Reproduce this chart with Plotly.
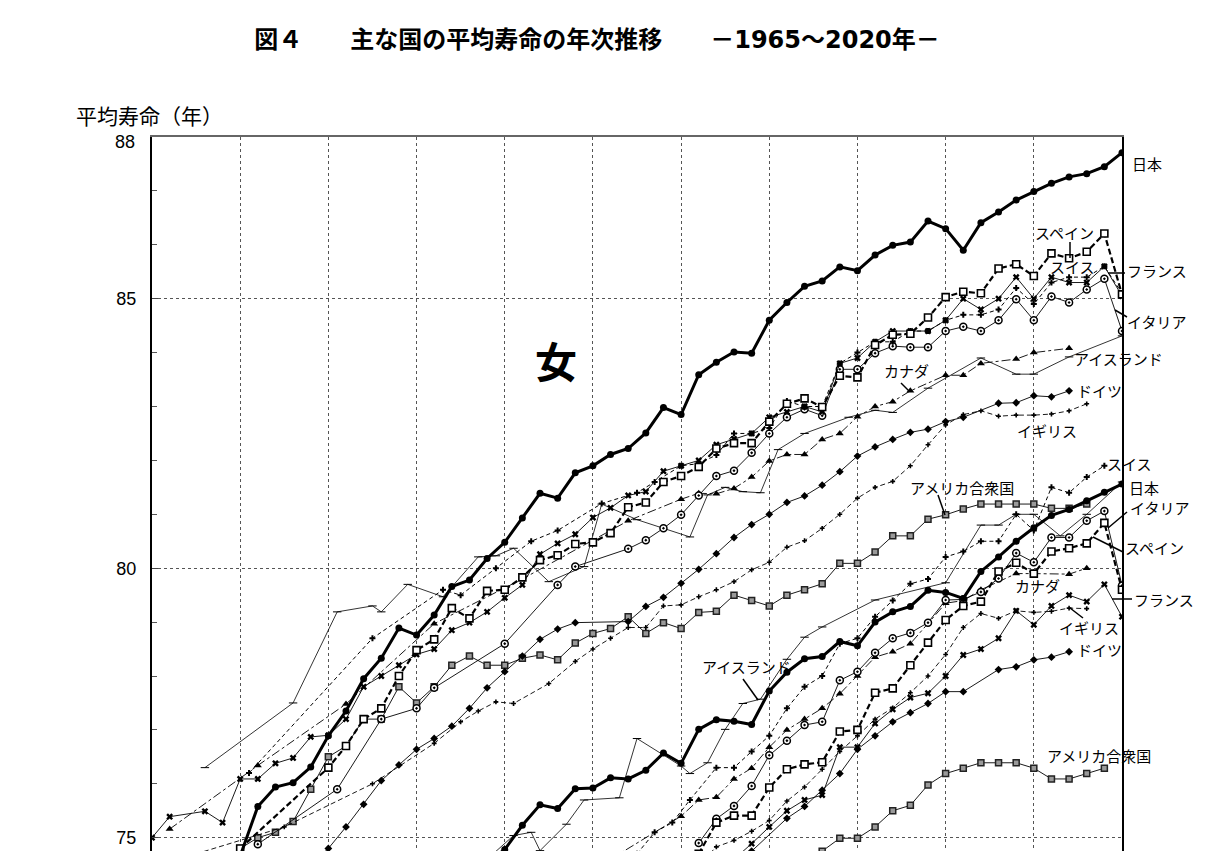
import plotly.graph_objects as go

# ---------------- data ----------------
# 女 (female)
jp_f_years = list(range(1965, 2021))
jp_f_vals = [72.92, 73.61, 74.15, 74.30, 74.67, 74.66, 75.58, 75.94, 76.02, 76.31,
             76.89, 77.35, 77.95, 78.33, 78.89, 78.76, 79.13, 79.66, 79.78, 80.18,
             80.48, 80.93, 81.39, 81.30, 81.77, 81.90, 82.11, 82.22, 82.51, 82.98,
             82.85, 83.59, 83.82, 84.01, 83.99, 84.60, 84.93, 85.23, 85.33, 85.59,
             85.52, 85.81, 85.99, 86.05, 86.44, 86.30, 85.90, 86.41, 86.61, 86.83,
             86.99, 87.14, 87.26, 87.32, 87.45, 87.71]

es_f_years = [1970] + list(range(1975, 2021))
es_f_vals = [74.8, 76.3, 76.7, 77.2, 77.4, 78.0, 78.48, 78.68, 79.26, 79.07, 79.58,
             79.6, 79.83, 80.15, 80.24, 80.45, 80.48, 80.65, 81.13, 81.22, 81.6,
             81.71, 81.88, 82.22, 82.32, 82.32, 82.72, 83.05, 83.15, 82.99, 83.57,
             83.54, 84.14, 84.33, 84.35, 84.65, 85.03, 85.13, 85.1, 85.56, 85.64,
             85.42, 85.84, 85.75, 85.87, 86.21, 85.08]

fr_f_years = [1965, 1966, 1968, 1969] + list(range(1970, 2021))
fr_f_vals = [75.0, 75.39, 75.49, 75.28, 76.09, 76.09, 76.38, 76.48, 76.87, 76.9,
             77.2, 77.8, 78.0, 78.2, 78.4, 78.5, 78.85, 78.99, 79.19, 79.45, 79.69,
             80.26, 80.46, 80.63, 80.94, 81.12, 81.35, 81.42, 81.8, 81.9, 82.0,
             82.29, 82.4, 82.5, 82.8, 82.9, 83.0, 82.9, 83.8, 83.9, 84.2, 84.4,
             84.4, 84.4, 84.6, 85.0, 84.8, 85.0, 85.4, 85.0, 85.4, 85.3, 85.3,
             85.6, 85.05]

ch_f_years = [1970.5, 1977.5, 1981.5, 1982.5, 1984.5, 1986.5, 1988, 1990.5, 1992.5,
              1993.5, 1995, 1996, 1997] + list(range(1998, 2021))
ch_f_vals = [76.2, 78.7, 79.6, 79.5, 80.0, 80.5, 80.7, 81.2, 81.4, 81.6, 81.9, 81.94,
             82.1, 82.5, 82.5, 82.6, 83.1, 83.0, 83.0, 83.8, 84.0, 84.2, 84.2, 84.4,
             84.4, 84.6, 84.7, 84.7, 84.8, 85.2, 84.9, 85.3, 85.4, 85.4, 85.6, 85.1]

it_f_years = [1971, 1975.5, 1978, 1980, 1981, 1985, 1988, 1989, 1992, 1993, 1994,
              1995, 1996] + list(range(1997, 2021))
it_f_vals = [74.88, 75.9, 77.2, 77.4, 77.78, 78.6, 79.69, 80.03, 80.36, 80.52, 80.74,
             80.99, 81.35, 81.71, 81.81, 82.14, 82.5, 82.8, 82.95, 82.83, 83.69, 83.69,
             83.99, 84.12, 84.1, 84.1, 84.4, 84.48, 84.4, 84.6, 84.99, 84.6, 85.04,
             84.93, 85.17, 85.37, 84.4]

is_f_years = [1968, 1973, 1975.5, 1977.5, 1978, 1979.5, 1981.5, 1983.5, 1984.5,
              1985.5, 1987.5, 1989.5, 1990.5, 1992.5, 1995.5, 1996.5, 1997.5, 1998.5,
              1999.5, 2000.5, 2002, 2004.5, 2006, 2007, 2009, 2012, 2014, 2015, 2017,
              2020]
is_f_vals = [76.3, 77.5, 79.19, 79.3, 79.19, 79.7, 79.47, 80.21, 80.23, 80.37, 79.75,
             80.03, 81.19, 80.9, 80.58, 81.36, 81.5, 81.42, 81.4, 82.2, 82.5, 82.8,
             82.93, 82.89, 83.34, 83.9, 83.6, 83.6, 83.92, 84.31]

ca_f_years = [1966, 1971, 1976, 1981, 1986, 1992, 1995, 1996, 1997, 1998, 1999, 2000,
              2001, 2002, 2003, 2004, 2005, 2006, 2007, 2008, 2010, 2011, 2012, 2014,
              2015, 2017]
ca_f_vals = [75.16, 76.34, 77.48, 78.97, 79.8, 80.88, 81.28, 81.39, 81.38, 81.48,
             81.69, 81.99, 82.11, 82.11, 82.39, 82.5, 82.81, 83.0, 83.09, 83.29, 83.58,
             83.58, 83.8, 83.88, 84.0, 84.08]

de_f_years = list(range(1974, 1990)) + list(range(1992, 2012)) + list(range(2013, 2018))
de_f_vals = [74.5, 74.8, 75.2, 75.62, 76.06, 76.35, 76.64, 76.84, 77.07, 77.4, 77.78,
             78.08, 78.37, 78.68, 78.87, 78.99, 79.01, 79.29, 79.46, 79.72, 79.98,
             80.27, 80.57, 80.81, 81.0, 81.22, 81.34, 81.54, 81.79, 82.08, 82.25,
             82.39, 82.52, 82.58, 82.72, 82.8, 83.06, 83.07, 83.2, 83.18, 83.29]

uk_f_years = [1967.5, 1972.5, 1977.5, 1981, 1982.5, 1983.5, 1984.5, 1985.5, 1987.5,
              1989] + list(range(1990, 2019))
uk_f_vals = [74.7, 75.2, 76.0, 76.75, 77.15, 77.35, 77.52, 77.49, 77.86, 78.27, 78.5,
             78.7, 78.9, 78.9, 79.3, 79.32, 79.47, 79.6, 79.75, 79.97, 80.11, 80.39,
             80.51, 80.74, 81.0, 81.3, 81.5, 81.61, 81.9, 82.29, 82.66, 82.85, 82.92,
             82.82, 82.84, 82.84, 82.86, 82.92, 83.05]

us_f_years = list(range(1969, 2019))
us_f_vals = [74.4, 74.8, 75.0, 75.1, 75.3, 75.9, 76.5, 76.7, 77.2, 77.2, 77.8, 77.5,
             77.8, 78.2, 78.37, 78.2, 78.2, 78.33, 78.39, 78.3, 78.61, 78.79, 78.88,
             79.1, 78.79, 78.99, 78.88, 79.18, 79.2, 79.5, 79.4, 79.3, 79.5, 79.6,
             79.71, 80.09, 80.09, 80.3, 80.6, 80.6, 80.91, 80.99, 81.1, 81.19, 81.19,
             81.19, 81.19, 81.11, 81.11, 81.19]

# 男 (male)
jp_m_years = list(range(1984, 2021))
jp_m_vals = [74.54, 74.78, 75.23, 75.61, 75.54, 75.91, 75.92, 76.11, 76.09, 76.25,
             76.57, 76.38, 77.01, 77.19, 77.16, 77.10, 77.72, 78.07, 78.32, 78.36,
             78.64, 78.56, 79.00, 79.19, 79.29, 79.59, 79.55, 79.44, 79.94, 80.21,
             80.50, 80.75, 80.98, 81.09, 81.25, 81.41, 81.56]

ch_m_years = [1992.5, 1993.5, 1994.5, 1995.5, 1997, 1998, 1999] + list(range(2000, 2020))
ch_m_vals = [74.7, 75.1, 75.28, 75.7, 76.3, 76.3, 76.6, 76.89, 77.4, 77.8, 78.0, 78.6,
             78.7, 79.1, 79.4, 79.71, 79.8, 80.21, 80.31, 80.5, 80.5, 81.0, 80.7, 81.5,
             81.4, 81.69, 81.9]

es_m_years = list(range(1996, 2021))
es_m_vals = [74.7, 75.28, 75.41, 75.41, 75.93, 76.27, 76.36, 76.4, 76.97, 77.0, 77.69,
             77.77, 78.2, 78.62, 79.04, 79.3, 79.38, 79.94, 80.1, 79.9, 80.31, 80.37,
             80.46, 80.84, 79.6]

it_m_years = list(range(1996, 2021))
it_m_vals = [74.9, 75.35, 75.59, 75.96, 76.53, 76.8, 77.09, 77.15, 77.92, 78.08, 78.43,
             78.7, 78.8, 78.99, 79.41, 79.42, 79.56, 79.81, 80.28, 80.11, 80.57, 80.57,
             80.88, 81.06, 79.68]

fr_m_years = list(range(1998, 2021))
fr_m_vals = [74.6, 74.89, 75.2, 75.5, 75.7, 75.79, 76.68, 76.68, 77.12, 77.38, 77.6,
             77.68, 78.0, 78.39, 78.5, 78.7, 79.21, 78.95, 79.3, 79.5, 79.38, 79.7, 79.1]

ca_m_years = [1991] + list(range(1995, 2009)) + [2010, 2011, 2012, 2014, 2015, 2017, 2018]
ca_m_vals = [74.6, 75.4, 75.7, 75.75, 76.09, 76.29, 76.68, 77.0, 77.2, 77.4, 77.67,
             78.0, 78.35, 78.45, 78.6, 79.35, 79.4, 79.6, 79.9, 79.9, 79.89, 80.0]

de_m_years = [1999, 2001] + list(range(2002, 2012)) + list(range(2013, 2018))
de_m_vals = [74.75, 75.36, 75.58, 75.88, 76.19, 76.64, 76.89, 77.15, 77.32, 77.49,
             77.71, 77.71, 78.12, 78.17, 78.3, 78.35, 78.45]

uk_m_years = list(range(1996, 2019))
uk_m_vals = [74.5, 74.83, 74.95, 75.12, 75.32, 75.68, 75.94, 76.27, 76.6, 76.89, 77.2,
             77.41, 77.69, 78.0, 78.4, 78.9, 79.16, 79.07, 79.21, 79.18, 79.2, 79.26,
             79.25]

us_m_years = list(range(2003, 2020))
us_m_vals = [74.75, 74.99, 74.99, 75.2, 75.5, 75.6, 75.98, 76.19, 76.29, 76.39, 76.39,
             76.39, 76.29, 76.09, 76.09, 76.19, 76.29]

is_m_years = [1984, 1985.5, 1986.5, 1987, 1988.5, 1989.5, 1991.5, 1992.5, 1995, 1995.5,
              1996.5, 1997.5, 1998.5, 1999.5, 2001, 2002, 2003, 2006, 2010, 2012, 2013,
              2014, 2015, 2016.5, 2018, 2020]
is_m_vals = [74.6, 75.04, 75.1, 74.76, 75.25, 75.7, 75.74, 76.84, 76.33, 76.19, 76.39,
             77.01, 77.49, 77.57, 78.31, 78.72, 78.91, 79.41, 79.73, 80.8, 80.8, 81.0,
             81.0, 80.6, 81.0, 81.6]

y_tick_vals = [75, 80, 85, 88]
y_tick_text = ["75", "80", "85", ""]   # "88" is drawn a little lower, as in the reference
top_tick_label = "88"

# ---------------- styles ----------------
BLK = "black"
styles = {
    "jp": dict(line=dict(color=BLK, width=3), marker=dict(symbol="circle", size=7, color=BLK)),
    "es": dict(line=dict(color=BLK, width=2.2, dash="6px,3px"),
               marker=dict(symbol="square", size=7, color="white", line=dict(color=BLK, width=1.6))),
    "fr": dict(line=dict(color=BLK, width=0.9),
               marker=dict(symbol="x", size=6, color=BLK)),
    "ch": dict(line=dict(color=BLK, width=1, dash="4px,3px"),
               marker=dict(symbol="cross", size=5, color=BLK)),
    "it": dict(line=dict(color=BLK, width=0.9),
               marker=dict(symbol="circle-dot", size=7, color="white", line=dict(color=BLK, width=1.5))),
    "is": dict(line=dict(color=BLK, width=0.8),
               marker=dict(symbol="line-ew", size=6, color=BLK, line=dict(color=BLK, width=1))),
    "ca": dict(line=dict(color=BLK, width=0.9, dash="dashdot"),
               marker=dict(symbol="triangle-up", size=7, color=BLK)),
    "de": dict(line=dict(color=BLK, width=0.9),
               marker=dict(symbol="diamond", size=6, color=BLK)),
    "uk": dict(line=dict(color=BLK, width=0.9, dash="5px,3px"),
               marker=dict(symbol="cross", size=4, color=BLK)),
    "us": dict(line=dict(color=BLK, width=0.9),
               marker=dict(symbol="square", size=6, color="#9a9a9a", line=dict(color="#222", width=1.5))),
}

series = [
    ("us", "アメリカ合衆国(女)", us_f_years, us_f_vals),
    ("uk", "イギリス(女)", uk_f_years, uk_f_vals),
    ("de", "ドイツ(女)", de_f_years, de_f_vals),
    ("ca", "カナダ(女)", ca_f_years, ca_f_vals),
    ("is", "アイスランド(女)", is_f_years, is_f_vals),
    ("it", "イタリア(女)", it_f_years, it_f_vals),
    ("ch", "スイス(女)", ch_f_years, ch_f_vals),
    ("fr", "フランス(女)", fr_f_years, fr_f_vals),
    ("es", "スペイン(女)", es_f_years, es_f_vals),
    ("jp", "日本(女)", jp_f_years, jp_f_vals),
    ("us", "アメリカ合衆国(男)", us_m_years, us_m_vals),
    ("uk", "イギリス(男)", uk_m_years, uk_m_vals),
    ("de", "ドイツ(男)", de_m_years, de_m_vals),
    ("ca", "カナダ(男)", ca_m_years, ca_m_vals),
    ("is", "アイスランド(男)", is_m_years, is_m_vals),
    ("it", "イタリア(男)", it_m_years, it_m_vals),
    ("ch", "スイス(男)", ch_m_years, ch_m_vals),
    ("fr", "フランス(男)", fr_m_years, fr_m_vals),
    ("es", "スペイン(男)", es_m_years, es_m_vals),
    ("jp", "日本(男)", jp_m_years, jp_m_vals),
]

fig = go.Figure()
for key, name, xs, ys in series:
    st = styles[key]
    fig.add_trace(go.Scatter(x=xs, y=ys, name=name, mode="lines+markers",
                             line=st["line"], marker=st["marker"],
                             showlegend=False, cliponaxis=True))

# ---------------- layout geometry ----------------
W, H = 1219, 851
ML, MR, MT, MB = 152, 97, 137, 0
X0, X1 = 1965, 2020
PX_PER_UNIT = 53.9
plot_w = W - ML - MR
plot_h = H - MT - MB
Y1 = 88
Y0 = Y1 - plot_h / PX_PER_UNIT


def px_paper_x(px):
    return (px - ML) / plot_w


def px_paper_y(py):
    return (H - MB - py) / plot_h


JP = "Noto Sans CJK JP"
label_font = dict(family=JP, size=15, color=BLK)

# label text, left pixel, centre-y pixel
labels = [
    ("日本", 1130, 163), ("スペイン", 1033, 233), ("スイス", 1048, 266),
    ("フランス", 1125, 270), ("イタリア", 1125, 321), ("アイスランド", 1072, 358),
    ("ドイツ", 1075, 390), ("カナダ", 882, 370), ("イギリス", 1015, 430),
    ("アメリカ合衆国", 908, 487),
    ("スイス", 1105, 463), ("日本", 1127, 487), ("イタリア", 1128, 508),
    ("スペイン", 1123, 547), ("カナダ", 1013, 585), ("フランス", 1132, 599),
    ("イギリス", 1057, 627), ("ドイツ", 1075, 649), ("アイスランド", 700, 666),
    ("アメリカ合衆国", 1045, 755),
]
leaders = [
    (1070, 242, 1070, 258), (1108, 273, 1125, 273), (1115, 310, 1127, 317),
    (901, 383, 909, 391), (938, 495, 945, 515),
    (1108, 528, 1127, 512), (1093, 537, 1123, 552), (1112, 599, 1132, 599),
    (1070, 608, 1083, 618), (743, 679, 758, 700),
]

annotations = []
for txt, lx, cy in labels:
    annotations.append(dict(text=txt, x=px_paper_x(lx), y=px_paper_y(cy),
                            xref="paper", yref="paper",
                            xanchor="left", yanchor="middle", showarrow=False,
                            font=label_font))
annotations.append(dict(text="<b>女</b>", x=px_paper_x(556), y=px_paper_y(359),
                        xref="paper", yref="paper",
                        xanchor="center", yanchor="middle", showarrow=False,
                        font=dict(family=JP, size=42, color=BLK)))
annotations.append(dict(text="平均寿命（年）", x=px_paper_x(74), y=px_paper_y(115),
                        xref="paper", yref="paper",
                        xanchor="left", yanchor="middle", showarrow=False,
                        font=dict(family=JP, size=21, color=BLK)))
annotations.append(dict(text=top_tick_label, x=px_paper_x(137), y=px_paper_y(142),
                        xref="paper", yref="paper",
                        xanchor="right", yanchor="middle", showarrow=False,
                        font=dict(family="Liberation Sans", size=18, color=BLK)))

shapes = []
for x0p, y0p, x1p, y1p in leaders:
    shapes.append(dict(type="line", xref="paper", yref="paper",
                       x0=px_paper_x(x0p), y0=px_paper_y(y0p),
                       x1=px_paper_x(x1p), y1=px_paper_y(y1p),
                       line=dict(color=BLK, width=1.5)))

title_text = ("<b>図４　　主な国の平均寿命の年次推移　　－"
              "<span style='font-family:DejaVu Sans'>1965</span>～"
              "<span style='font-family:DejaVu Sans'>2020</span>年－</b>")

fig.update_layout(
    width=W, height=H, autosize=False,
    margin=dict(l=ML, r=MR, t=MT, b=MB, pad=0),
    paper_bgcolor="white", plot_bgcolor="white",
    title=dict(text=title_text,
               x=597 / W, y=1 - 40 / H, xref="container", yref="container",
               xanchor="center", yanchor="middle",
               font=dict(family=JP, size=24, color=BLK)),
    annotations=annotations, shapes=shapes,
    font=dict(family=JP, color=BLK),
)
fig.update_xaxes(range=[X0, X1], side="top", showticklabels=False, ticks="",
                 tick0=1965, dtick=5, showgrid=True, gridcolor="#555",
                 griddash="dot", gridwidth=1, zeroline=False,
                 showline=True, linecolor="#666", linewidth=2, mirror=False)
fig.update_yaxes(range=[Y0, Y1], tickmode="array", tickvals=y_tick_vals,
                 ticktext=y_tick_text, ticks="inside", ticklen=6, tickcolor="#444",
                 tickfont=dict(family="Liberation Sans", size=18, color=BLK),
                 ticklabelstandoff=10,
                 showgrid=True, gridcolor="#555", griddash="dot", gridwidth=1,
                 zeroline=False, showline=True, linecolor=BLK, linewidth=2,
                 mirror=True,
                 minor=dict(tickmode="linear", tick0=75, dtick=1, ticks="inside",
                            ticklen=5, tickcolor="#555", showgrid=False))

fig.write_html("out.html", config={"displayModeBar": False},
               post_script="document.body.style.margin='0px';")
